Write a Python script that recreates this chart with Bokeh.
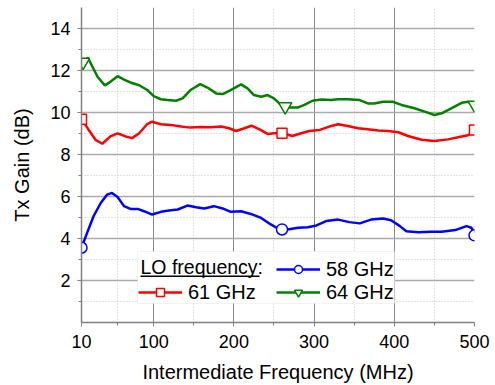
from bokeh.plotting import figure
from bokeh.models import FixedTicker, Legend, LegendItem, Label, BoxAnnotation, Range1d
from bokeh.embed import file_html
from bokeh.resources import INLINE

# ---- data ----
freq_64 = [10.8, 18, 30, 39, 46, 55, 63, 71, 82, 92, 100, 109, 117, 128, 136, 146, 158, 167, 178, 186,
           196, 209, 217, 225, 234, 242, 250, 261, 269, 280, 288, 298, 309, 321, 330, 342, 357, 367,
           375, 386, 398, 409, 425, 438, 450, 459, 471, 484, 492, 500]
gain_64 = [12.33, 12.61, 11.70, 11.29, 11.46, 11.73, 11.57, 11.43, 11.30, 11.07, 10.78, 10.63, 10.59,
           10.56, 10.67, 11.07, 11.35, 11.19, 10.91, 10.88, 11.07, 11.34, 11.15, 10.83, 10.75, 10.83,
           10.67, 10.28, 10.24, 10.24, 10.36, 10.56, 10.62, 10.59, 10.63, 10.63, 10.59, 10.43, 10.43,
           10.51, 10.51, 10.36, 10.20, 10.04, 9.88, 9.96, 10.20, 10.46, 10.51, 10.36]

freq_61 = [10.8, 19, 27.5, 36, 46, 55, 65, 73, 82, 92, 98, 109, 121, 134, 146, 159, 171, 184, 194, 203,
           213, 222, 232, 242, 250, 261, 273, 284, 294, 307, 319, 330, 342, 355, 367, 380, 392, 405,
           417, 434, 450, 467, 484, 492, 500]
gain_61 = [9.64, 9.17, 8.70, 8.51, 8.86, 9.01, 8.86, 8.78, 9.01, 9.45, 9.56, 9.44, 9.41, 9.33, 9.28,
           9.31, 9.30, 9.33, 9.25, 9.12, 9.25, 9.37, 9.20, 8.98, 9.01, 9.01, 8.88, 9.01, 9.12, 9.17,
           9.33, 9.44, 9.36, 9.25, 9.20, 9.14, 9.12, 9.06, 8.88, 8.70, 8.64, 8.72, 8.86, 8.92, 9.09]

freq_58 = [10.8, 17, 25, 34, 42, 48, 55, 63, 71, 80, 88, 98, 109, 119, 130, 142, 153, 163, 175, 186,
           196, 209, 221, 234, 246, 257, 267, 280, 292, 303, 315, 330, 344, 357, 371, 386, 396, 407,
           415, 430, 446, 459, 476, 490, 496, 500]
gain_58 = [3.64, 4.27, 5.06, 5.69, 6.09, 6.17, 5.98, 5.54, 5.41, 5.41, 5.30, 5.14, 5.27, 5.33, 5.38,
           5.57, 5.49, 5.43, 5.54, 5.43, 5.27, 5.30, 5.17, 4.98, 4.67, 4.43, 4.43, 4.51, 4.54, 4.62,
           4.83, 4.90, 4.78, 4.72, 4.90, 4.95, 4.87, 4.59, 4.35, 4.30, 4.32, 4.32, 4.40, 4.59, 4.51, 4.27]

mark_x_58 = [10, 260, 500]
mark_y_58 = [3.56, 4.43, 4.15]
mark_x_61 = [10, 260, 500]
mark_y_61 = [9.68, 9.01, 9.17]
mark_x_64 = [12, 264, 500]
mark_y_64 = [12.4, 10.28, 10.36]

x_ticks = [10, 100, 200, 300, 400, 500]
x_minor = [55, 150, 250, 350, 450]
y_ticks = [2, 4, 6, 8, 10, 12, 14]
y_minor = [1, 3, 5, 7, 9, 11, 13]

FONT = "Liberation Sans"

p = figure(width=495, height=385, output_backend="svg", toolbar_location=None,
           x_range=Range1d(10, 500), y_range=Range1d(0, 15),
           min_border_left=81, min_border_right=21, min_border_top=7, min_border_bottom=62)
p.outline_line_color = None
p.background_fill_color = "white"

for ax in (p.xaxis[0], p.yaxis[0]):
    ax.axis_line_color = "#808080"
    ax.axis_line_width = 1.5
    ax.major_tick_line_color = "#808080"
    ax.minor_tick_line_color = "#808080"
    ax.major_tick_in = 0
    ax.major_tick_out = 4
    ax.minor_tick_in = 0
    ax.minor_tick_out = 3
    ax.major_label_text_font = FONT
    ax.major_label_text_font_size = "18px"
    ax.major_label_text_color = "black"
    ax.axis_label_text_font = FONT
    ax.axis_label_text_font_size = "20px"
    ax.axis_label_text_font_style = "normal"
    ax.axis_label_text_color = "black"

p.xaxis.ticker = FixedTicker(ticks=x_ticks, minor_ticks=x_minor)
p.yaxis.ticker = FixedTicker(ticks=y_ticks, minor_ticks=y_minor)
p.xaxis.axis_label = "Intermediate Frequency (MHz)"
p.yaxis.axis_label = "Tx Gain (dB)"
p.xaxis.major_label_standoff = 8
p.xaxis.axis_label_standoff = 10
p.yaxis.major_label_standoff = 7
p.yaxis.axis_label_standoff = 14

p.xgrid.grid_line_color = "#888888"
p.xgrid.grid_line_width = 1
p.ygrid.grid_line_color = "#aaaaaa"
p.ygrid.grid_line_width = 1.6
for g in (p.xgrid[0], p.ygrid[0]):
    g.minor_grid_line_color = "#c4c4c4"
    g.minor_grid_line_dash = "1 2"
    g.minor_grid_line_width = 1

series = [
    ("58 GHz", freq_58, gain_58, mark_x_58, mark_y_58, "#0000ff", "circle", 11),
    ("61 GHz", freq_61, gain_61, mark_x_61, mark_y_61, "#ff0000", "square", 10),
    ("64 GHz", freq_64, gain_64, mark_x_64, mark_y_64, "#008000", "inverted_triangle", 13),
]
items = {}
for name, fx, gy, mx, my, col, mk, sz in series:
    ln = p.line(fx, gy, line_color=col, line_width=2.5)
    sc = p.scatter(mx, my, marker=mk, size=sz, line_color=col, line_width=1.5, fill_color="white")
    items[name] = LegendItem(label=name, renderers=[ln, sc])

# legend background box (screen units relative to frame)
box = BoxAnnotation(left=56, right=313, bottom=19, top=71,
                    left_units="screen", right_units="screen",
                    bottom_units="screen", top_units="screen",
                    fill_color="white", fill_alpha=1.0,
                    line_color="#d4d4d4", line_width=1)
p.add_layout(box)

def mk_legend(its, loc):
    lg = Legend(items=its, location=loc, orientation="vertical",
                padding=0, margin=0, spacing=0,
                glyph_width=44, glyph_height=20, label_height=20, label_standoff=6,
                label_text_font=FONT, label_text_font_size="20px", label_text_color="black",
                border_line_color=None, background_fill_alpha=0)
    return lg

p.add_layout(mk_legend([items["61 GHz"]], (57, 18.5)), "center")
p.add_layout(mk_legend([items["58 GHz"], items["64 GHz"]], (195, 18.5)), "center")

lo = Label(x=59, y=56, x_units="screen", y_units="screen", text="LO frequency:",
           text_font=FONT, text_font_size="19.5px", text_baseline="middle", text_align="left",
           text_color="black")
p.add_layout(lo)
underline = BoxAnnotation(left=59, right=178, bottom=45.6, top=46.9,
                          left_units="screen", right_units="screen",
                          bottom_units="screen", top_units="screen",
                          fill_color="black", fill_alpha=1.0, line_color=None)
p.add_layout(underline)

open("out.html", "w").write(file_html(p, INLINE))
